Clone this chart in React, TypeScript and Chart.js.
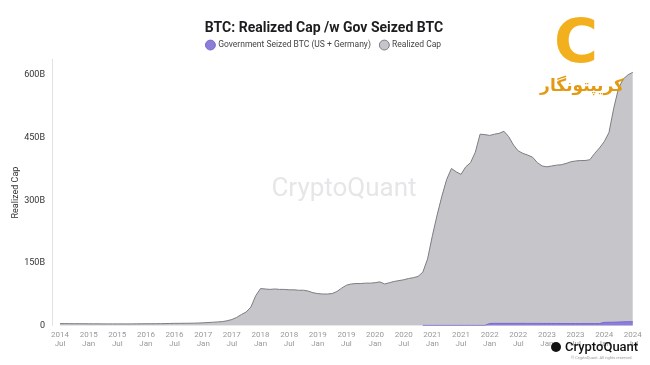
import React, { useEffect, useRef } from "react";
import { Chart, registerables } from "chart.js";

Chart.register(...registerables);

// Monthly points from 2014 Jul (index 0) to 2024 Jul (index 120), values in billions USD
const months: string[] = Array.from({ length: 121 }, (_, i) => {
  const t = 2014 * 12 + 6 + i;
  return `${Math.floor(t / 12)}-${String((t % 12) + 1).padStart(2, "0")}`;
});

const realizedCap: number[] = [
  5.2, 5.2, 5.1, 5.0, 5.0, 4.9, 4.8, 4.7, 4.7, 4.6, 4.6, 4.6,
  4.6, 4.6, 4.5, 4.6, 4.7, 4.8, 4.9, 5.0, 5.0, 5.1, 5.3, 5.6,
  5.8, 5.9, 6.0, 6.1, 6.3, 6.6, 7.2, 7.8, 8.5, 9.2, 10, 12,
  15, 20, 27, 33, 45, 72, 89, 88, 87, 88, 87, 87,
  86, 86, 85, 85, 83, 79, 77, 76, 76, 77, 82, 90,
  97, 100, 101, 101, 102, 102, 103, 105, 100, 103, 106, 108,
  110, 113, 115, 118, 128, 160, 215, 265, 310, 350, 376, 368,
  362, 380, 390, 415, 458, 457, 455, 458, 460, 465, 452, 432,
  418, 412, 408, 403, 390, 382, 380, 382, 384, 385, 388, 392,
  394, 395, 395, 397, 412, 425, 440, 462, 520, 568, 590, 600,
  606,
];

// Government seized BTC (US + Germany), starts 2020 Nov (index 76)
const govStartIndex = 76;
const govSeized: number[] = [
  1, 1, 1, 1, 1, 1, 1, 1, 1, 1, 1, 1, 1, 1,
  5.5, 5.8, 5.8, 5.8, 5.8, 5.8, 5.8, 5.8, 5.7, 5.7, 5.7, 5.6,
  5.6, 5.6, 5.5, 5.5, 5.4, 5.4, 5.4, 5.3, 5.3, 5.3, 5.3, 5.4,
  8.2, 8.4, 8.6, 9.0, 9.4, 9.7, 9.8,
];

const xTickIndices: number[] = [0, 6, 12, 18, 24, 30, 36, 42, 48, 54, 60, 66, 72, 78, 84, 90, 96, 102, 108, 114, 120];
const xTickYears: string[] = ["2014", "2015", "2015", "2016", "2016", "2017", "2017", "2018", "2018", "2019", "2019", "2020", "2020", "2021", "2021", "2022", "2022", "2023", "2023", "2024", "2024"];
const xTickMonths: string[] = ["Jul", "Jan", "Jul", "Jan", "Jul", "Jan", "Jul", "Jan", "Jul", "Jan", "Jul", "Jan", "Jul", "Jan", "Jul", "Jan", "Jul", "Jan", "Jul", "Jan", "Jul"];
const yTickValues: number[] = [0, 150, 300, 450, 600];
const yTickLabels: string[] = ["0", "150B", "300B", "450B", "600B"];

const FONT = "Roboto, 'Liberation Sans', Arial, sans-serif";

const decorPlugin = {
  id: "decor",
  beforeDatasetsDraw(chart: any) {
    const ctx = chart.ctx;
    ctx.save();
    ctx.font = `400 26px ${FONT}`;
    ctx.fillStyle = "rgba(205,205,210,0.5)";
    ctx.textAlign = "center";
    ctx.textBaseline = "middle";
    ctx.fillText("CryptoQuant", 344, 189);
    ctx.restore();
  },
  afterDraw(chart: any) {
    const ctx = chart.ctx;
    ctx.save();
    // Persian logo top right
    ctx.fillStyle = "#f2b01e";
    ctx.font = `bold 60px 'DejaVu Sans', sans-serif`;
    ctx.textAlign = "center";
    ctx.textBaseline = "middle";
    ctx.fillText("C", 576, 46);
    ctx.font = `bold 17px 'DejaVu Sans', sans-serif`;
    ctx.fillStyle = "#e39a12";
    ctx.fillText("کریپتونگار", 582, 87);
    // bottom-right brand
    ctx.fillStyle = "#111";
    ctx.beginPath();
    ctx.arc(556, 347, 5, 0, Math.PI * 2);
    ctx.fill();
    ctx.font = `500 13px ${FONT}`;
    ctx.textAlign = "left";
    ctx.fillText("CryptoQuant", 565, 348);
    ctx.font = `4px ${FONT}`;
    ctx.fillStyle = "#999";
    ctx.fillText("© CryptoQuant. All rights reserved.", 571, 358);
    ctx.restore();
  },
};

export default function App() {
  const ref = useRef<HTMLCanvasElement | null>(null);
  useEffect(() => {
    document.body.style.margin = "0";
    if (!ref.current) return;
    const chart = new Chart(ref.current, {
      type: "line",
      data: {
        labels: months,
        datasets: [
          {
            label: "Government Seized BTC (US + Germany)",
            data: govSeized.map((v, i) => ({ x: govStartIndex + i, y: v })),
            borderColor: "#7a68d4",
            backgroundColor: "#8c7dd8",
            borderWidth: 1,
            pointRadius: 0,
            fill: "origin",
            tension: 0,
            order: 0,
          },
          {
            label: "Realized Cap",
            data: realizedCap.map((v, i) => ({ x: i, y: v })),
            borderColor: "#7d7d82",
            backgroundColor: "#c5c5ca",
            borderWidth: 1,
            pointRadius: 0,
            fill: "origin",
            tension: 0,
            order: 1,
          },
        ],
      } as any,
      options: {
        responsive: false,
        animation: false,
        layout: { padding: { left: 8, right: 10, top: 20, bottom: 12 } },
        plugins: {
          title: {
            display: true,
            text: "BTC: Realized Cap /w Gov Seized BTC",
            color: "#1d1d1f",
            font: { family: FONT, size: 14, weight: "bold" },
            padding: { top: 0, bottom: -6 },
          },
          legend: {
            display: true,
            labels: {
              usePointStyle: true,
              pointStyle: "circle",
              boxWidth: 7,
              boxHeight: 7,
              color: "#444",
              font: { family: FONT, size: 8.5 },
              padding: 10,
            },
          },
          tooltip: { enabled: false },
        },
        scales: {
          x: {
            type: "linear",
            min: -1.68,
            max: 121.5,
            grid: { display: false, drawTicks: false },
            border: { display: false },
            afterBuildTicks: (s: any) => {
              s.ticks = xTickIndices.map((v) => ({ value: v }));
            },
            ticks: {
              autoSkip: false,
              maxRotation: 0,
              color: "#999",
              font: { family: FONT, size: 8 },
              padding: 4,
              callback: (v: any) => {
                const k = xTickIndices.indexOf(Number(v));
                return k >= 0 ? [xTickYears[k], xTickMonths[k]] : "";
              },
            },
          },
          y: {
            min: 0,
            max: 637,
            grid: { display: false, drawTicks: false },
            border: { display: true, color: "#e2e2e2" },
            afterBuildTicks: (s: any) => {
              s.ticks = yTickValues.map((v) => ({ value: v }));
            },
            afterFit: (s: any) => {
              s.width = 44;
            },
            title: {
              display: true,
              text: "Realized Cap",
              color: "#333",
              font: { family: FONT, size: 9 },
              padding: { top: 2, bottom: 0 },
            },
            ticks: {
              color: "#333",
              font: { family: FONT, size: 9 },
              padding: 7,
              callback: (v: any) => {
                const k = yTickValues.indexOf(Number(v));
                return k >= 0 ? yTickLabels[k] : "";
              },
            },
          },
        },
      } as any,
      plugins: [decorPlugin],
    });
    return () => chart.destroy();
  }, []);
  return (
    <div style={{ width: 650, height: 365, background: "#fff" }}>
      <canvas ref={ref} width={650} height={365} />
    </div>
  );
}
